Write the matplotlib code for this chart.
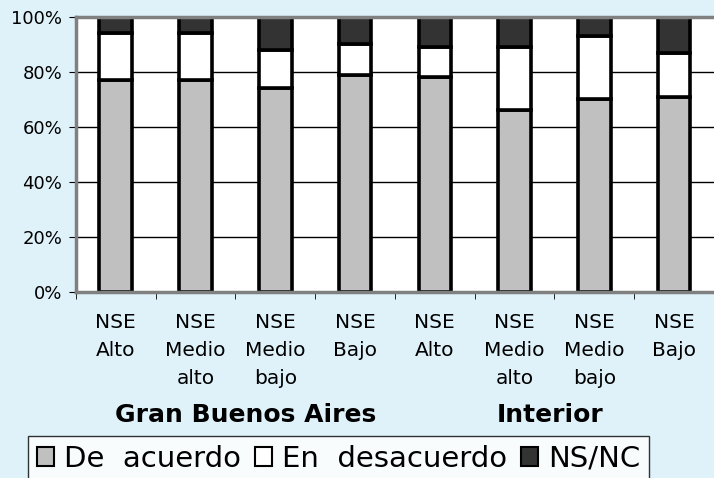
import numpy as np
import matplotlib.pyplot as plt
from matplotlib.patches import Patch
from matplotlib.ticker import PercentFormatter

categories = ["NSE\nAlto", "NSE\nMedio\nalto", "NSE\nMedio\nbajo", "NSE\nBajo",
              "NSE\nAlto", "NSE\nMedio\nalto", "NSE\nMedio\nbajo", "NSE\nBajo"]
groups = ["Gran Buenos Aires", "Interior"]
de_acuerdo = [77, 77, 74, 79, 78, 66, 70, 71]
en_desacuerdo = [17, 17, 14, 11, 11, 23, 23, 16]
ns_nc = [6, 6, 12, 10, 11, 11, 7, 13]

bg = "#dff2fa"
fig = plt.figure(figsize=(7.14, 4.78), dpi=100, facecolor=bg)
ax = fig.add_axes([0.1064, 0.389, 0.8936, 0.5756])
ax.set_facecolor("white")

x = np.arange(len(categories))
w = 0.41
kw = dict(width=w, edgecolor="black", linewidth=2.6)
ax.bar(x, de_acuerdo, color="#c0c0c0", **kw)
ax.bar(x, en_desacuerdo, bottom=de_acuerdo, color="white", **kw)
ax.bar(x, ns_nc, bottom=np.add(de_acuerdo, en_desacuerdo), color="#333333", **kw)

ax.set_xlim(-0.5, len(categories) - 0.5)
ax.set_ylim(0, 100)
ax.set_yticks(range(0, 101, 20))
ax.yaxis.set_major_formatter(PercentFormatter(decimals=0))
ax.grid(axis="y", color="black", linewidth=1)
ax.set_axisbelow(True)

ax.set_xticks(x)
ax.set_xticklabels(categories, fontsize=14.5, linespacing=1.6, va="top")
ax.tick_params(axis="x", length=0, pad=15)
ax.set_xticks(np.arange(-0.5, len(categories)), minor=True)
ax.tick_params(axis="x", which="minor", length=5, color="black")
ax.tick_params(axis="y", labelsize=13, length=5, pad=5)

for s in ax.spines.values():
    s.set_color("#808080")
    s.set_linewidth(2.5)
ax.spines["right"].set_visible(False)

fig.text(246 / 714, 1 - 415 / 478, groups[0], fontsize=18, fontweight="bold",
         ha="center", va="center")
fig.text(550 / 714, 1 - 415 / 478, groups[1], fontsize=18, fontweight="bold",
         ha="center", va="center")

handles = [Patch(facecolor="#c0c0c0", edgecolor="black", linewidth=1.5, label="De  acuerdo"),
           Patch(facecolor="white", edgecolor="black", linewidth=1.5, label="En  desacuerdo"),
           Patch(facecolor="#333333", edgecolor="black", linewidth=1.5, label="NS/NC")]
leg = fig.legend(handles=handles, loc="upper left", bbox_to_anchor=(28 / 714, 1 - 436 / 478),
                 ncol=3, fontsize=21, frameon=True, fancybox=False,
                 handlelength=0.6, handleheight=0.6, handletextpad=0.35,
                 columnspacing=0.45, borderpad=0.3, borderaxespad=0)
leg.get_frame().set_edgecolor("black")
leg.get_frame().set_linewidth(1)
leg.get_frame().set_facecolor("white")

fig.savefig("out.png", dpi=100, facecolor=bg)
